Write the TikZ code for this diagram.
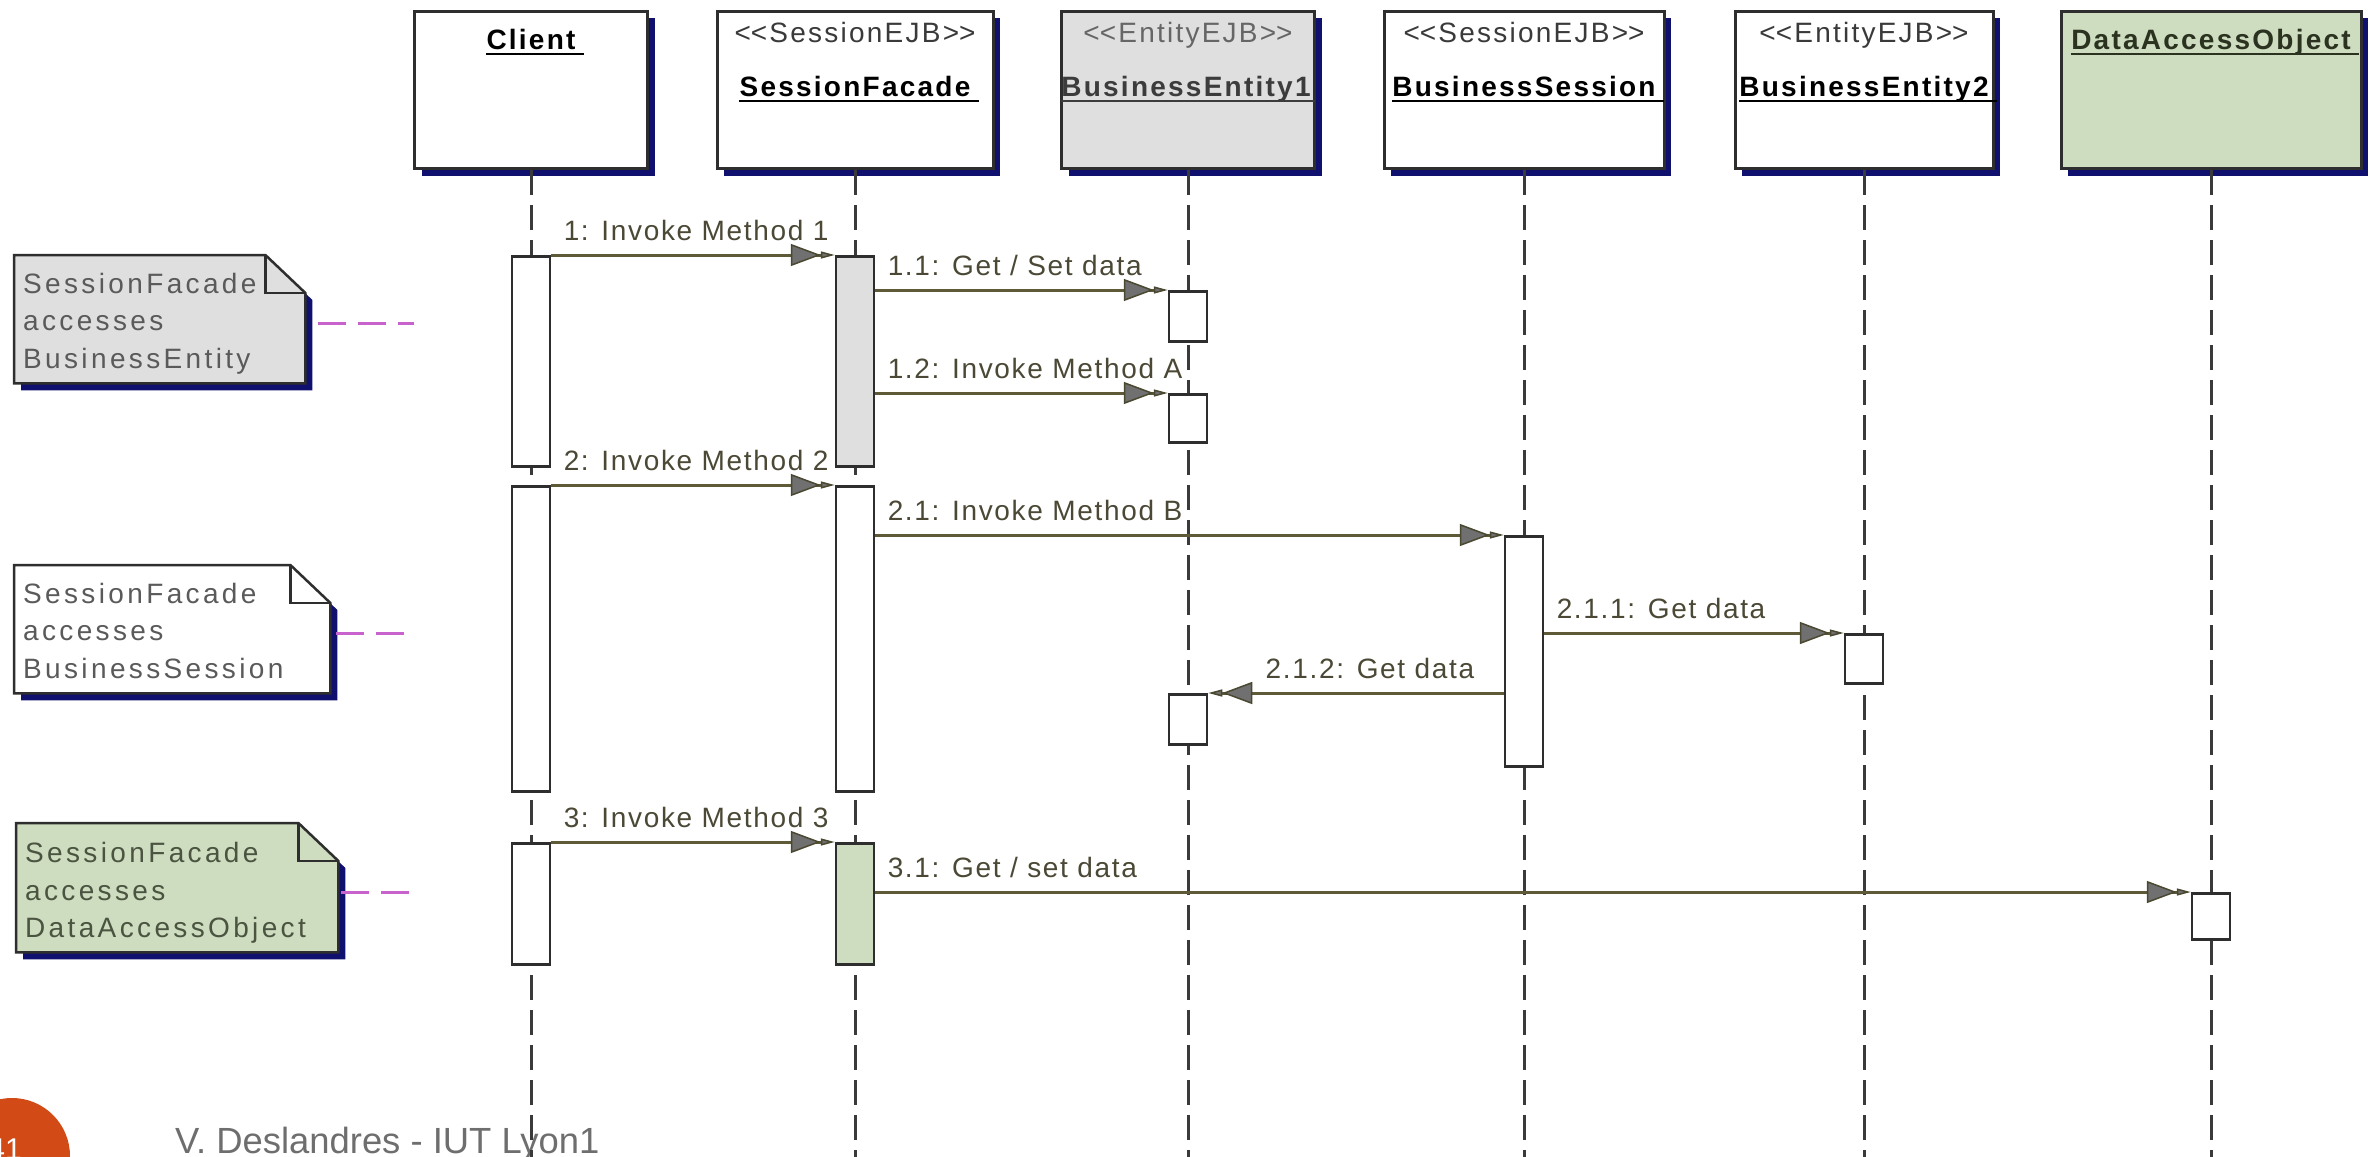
\documentclass[tikz,border=0pt]{standalone}
\usepackage{fontspec}
\setmainfont{Liberation Sans}
\newfontfamily\umlfont[LetterSpace=8]{Liberation Sans}
\newfontfamily\msgfont[LetterSpace=6]{Liberation Sans}
\newfontfamily\notefont[LetterSpace=12]{Liberation Sans}
\usetikzlibrary{arrows.meta,shadows,calc}

\definecolor{boxline}{HTML}{2E2E2E}
\definecolor{shadowblue}{HTML}{10106E}
\definecolor{paleGray}{HTML}{DFDFDF}
\definecolor{sage}{HTML}{CEDCBF}
\definecolor{msgline}{HTML}{5E5A38}
\definecolor{tipgray}{HTML}{707070}
\definecolor{tipline}{HTML}{4A4830}
\definecolor{msgtext}{HTML}{4B4936}
\definecolor{notegray}{HTML}{5A5A5A}
\definecolor{notegreen}{HTML}{4A5440}
\definecolor{linkviolet}{HTML}{C862CC}
\definecolor{lifegray}{HTML}{3A3A3A}
\definecolor{stereodark}{HTML}{3A3A3A}
\definecolor{stereolight}{HTML}{666666}
\definecolor{namegray}{HTML}{3C3C3C}
\definecolor{daoname}{HTML}{2B3320}
\definecolor{slideorange}{HTML}{D24B17}
\definecolor{footgray}{HTML}{6E6E6E}

% <<stereotype>> without the guillemet ligature
\newcommand\umlst[1]{<\kern0pt<#1>\kern0pt>}

\begin{document}
\begin{tikzpicture}[x=1pt,y=-1pt,
  umltext/.style={font=\umlfont\fontsize{28}{34}\selectfont, inner sep=0pt},
  head/.style={draw=boxline, line width=3pt, fill=white, minimum width=#1,
    minimum height=157pt, inner sep=0pt, anchor=north,
    drop shadow={shadow xshift=7pt, shadow yshift=-7pt, fill=shadowblue, opacity=1}},
  stereo/.style={umltext, anchor=base, text=#1},
  objname/.style={umltext, anchor=base, font=\umlfont\bfseries\fontsize{28}{34}\selectfont, text=#1},
  uline/.style={draw=#1, line width=2pt},
  life/.style={draw=lifegray, line width=3pt, dash pattern=on 25pt off 10pt},
  act/.style={draw=boxline, line width=2.5pt, fill=white, minimum width=38pt,
    minimum height=#1, inner sep=0pt, anchor=north},
  msg/.style={draw=msgline, line width=3pt,
    -{Triangle[length=30pt, width=22pt, fill=tipgray, color=tipline, line width=1.5pt, sep=0pt]
      Triangle[length=14pt, width=7pt, fill=tipgray, color=tipline, line width=1.5pt]}},
  msglabel/.style={font=\msgfont\fontsize{28}{34}\selectfont, inner sep=0pt,
    text=msgtext, pos=0, anchor=base west, xshift=11pt, yshift=15pt},
  noteframe/.style={inner sep=0pt, draw=none, anchor=north west},
  notebox/.style={draw=boxline, line width=2.5pt, fill=#1,
    drop shadow={shadow xshift=7pt, shadow yshift=-7pt, fill=shadowblue, opacity=1}},
  notefold/.style={draw=boxline, line width=2.5pt},
  notetext/.style={inner sep=0pt, align=left, anchor=north west,
    font=\notefont\fontsize{28}{37.5}\selectfont, text=#1},
  notelink/.style={draw=linkviolet, line width=3pt, dash pattern=on 28pt off 12pt}
]
\useasboundingbox (0,0) rectangle (2376,1156);
\fill[white] (0,0) rectangle (2376,1156);

% slide footer
\node[circle, fill=slideorange, minimum size=116pt, inner sep=0pt] (pagedot) at (12,1156) {};
\node[anchor=base east, inner sep=0pt, text=white, font=\fontsize{30}{34}\selectfont] (pagenum) at (22,1159) {41};
\node[anchor=base west, inner sep=0pt, text=footgray, font=\fontsize{36.4}{40}\selectfont] (footer) at (175,1153) {V. Deslandres - IUT Lyon1};

% object heads
\node[head=233pt] (client) at (531,10) {};
\node[head=276pt] (sf) at (855,10) {};
\node[head=253pt, fill=paleGray] (be1) at (1188,10) {};
\node[head=280pt] (bs) at (1524,10) {};
\node[head=258pt] (be2) at (1864,10) {};
\node[head=300pt, fill=sage] (dao) at (2211,10) {};

\node[objname=black] (clientN) at (531,49) {Client};
\draw[uline=black] ([yshift=-5pt]clientN.base west) -- ([xshift=8pt,yshift=-5pt]clientN.base east);

\node[stereo=stereodark] (sfS) at (855,43) {\umlst{SessionEJB}};
\node[objname=black] (sfN) at (855,96) {SessionFacade};
\draw[uline=black] ([yshift=-5pt]sfN.base west) -- ([xshift=8pt,yshift=-5pt]sfN.base east);

\node[stereo=stereolight] (be1S) at (1188,43) {\umlst{EntityEJB}};
\node[objname=namegray] (be1N) at (1186,96) {BusinessEntity1};
\draw[uline=namegray] ([yshift=-5pt]be1N.base west) -- ([xshift=4pt,yshift=-5pt]be1N.base east);

\node[stereo=stereodark] (bsS) at (1524,43) {\umlst{SessionEJB}};
\node[objname=black] (bsN) at (1524,96) {BusinessSession};
\draw[uline=black] ([yshift=-5pt]bsN.base west) -- ([xshift=8pt,yshift=-5pt]bsN.base east);

\node[stereo=stereodark] (be2S) at (1864,43) {\umlst{EntityEJB}};
\node[objname=black] (be2N) at (1864,96) {BusinessEntity2};
\draw[uline=black] ([yshift=-5pt]be2N.base west) -- ([xshift=8pt,yshift=-5pt]be2N.base east);

\node[objname=daoname] (daoN) at (2211,49) {DataAccessObject};
\draw[uline=daoname] ([yshift=-5pt]daoN.base west) -- ([xshift=8pt,yshift=-5pt]daoN.base east);

% lifelines
\coordinate (floor) at (0,1162);
\foreach \h in {client,sf,be1,bs,be2,dao}
  \draw[life] (\h.south) -- (\h.south |- floor);

% activation bars
\node[act=210pt] (c1) at (531,255) {};
\node[act=305pt] (c2) at (531,485) {};
\node[act=121pt] (c3) at (531,842) {};
\node[act=210pt, fill=paleGray] (s1) at (855,255) {};
\node[act=305pt] (s2) at (855,485) {};
\node[act=121pt, fill=sage] (s3) at (855,842) {};
\node[act=50pt] (e1a) at (1188,290) {};
\node[act=48pt] (e1b) at (1188,393) {};
\node[act=50pt] (e1c) at (1188,693) {};
\node[act=230pt] (bsa) at (1524,535) {};
\node[act=49pt] (e2a) at (1864,633) {};
\node[act=46pt] (da) at (2211,892) {};

% messages
\draw[msg] (c1.north east) -- (s1.north west) node[msglabel] (l1) {1: Invoke Method 1};
\draw[msg] (s1.east |- e1a.north west) -- (e1a.north west) node[msglabel] (l11) {1.1: Get / Set data};
\draw[msg] (s1.east |- e1b.north west) -- (e1b.north west) node[msglabel] (l12) {1.2: Invoke Method A};
\draw[msg] (c2.north east) -- (s2.north west) node[msglabel] (l2) {2: Invoke Method 2};
\draw[msg] (s2.east |- bsa.north west) -- (bsa.north west) node[msglabel] (l21) {2.1: Invoke Method B};
\draw[msg] (bsa.east |- e2a.north west) -- (e2a.north west) node[msglabel] (l211) {2.1.1: Get data};
\draw[msg] (bsa.west |- e1c.north east) -- (e1c.north east)
  node[msglabel, anchor=base east, xshift=-39pt] (l212) {2.1.2: Get data};
\draw[msg] (c3.north east) -- (s3.north west) node[msglabel] (l3) {3: Invoke Method 3};
\draw[msg] (s3.east |- da.north west) -- (da.north west) node[msglabel] (l31) {3.1: Get / set data};

% notes
\node[noteframe, minimum width=291pt, minimum height=128pt] (n1) at (14,255) {};
\node[noteframe, minimum width=316pt, minimum height=128pt] (n2) at (14,565) {};
\node[noteframe, minimum width=322pt, minimum height=129pt] (n3) at (16,823) {};

\foreach \n/\f in {n1/paleGray, n2/white, n3/sage}{
  \path[notebox=\f] (\n.north west) -- ($(\n.north east)+(-40,0)$) -- ($(\n.north east)+(0,38)$)
    -- (\n.south east) -- (\n.south west) -- cycle;
  \draw[notefold] ($(\n.north east)+(-40,0)$) -- ($(\n.north east)+(-40,38)$) -- ($(\n.north east)+(0,38)$);
}

\node[notetext=notegray] (n1t) at ($(n1.north west)+(9,18)$) {SessionFacade\\accesses\\BusinessEntity};
\node[notetext=notegray] (n2t) at ($(n2.north west)+(9,18)$) {SessionFacade\\accesses\\BusinessSession};
\node[notetext=notegreen] (n3t) at ($(n3.north west)+(9,19)$) {SessionFacade\\accesses\\DataAccessObject};

\coordinate (k1) at (414,323);
\coordinate (k2) at (414,633);
\coordinate (k3) at (414,892);
\draw[notelink] ($(n1.east |- k1)+(13,0)$) -- (k1);
\draw[notelink] ($(n2.east |- k2)+(6,0)$) -- (k2);
\draw[notelink] ($(n3.east |- k3)+(3,0)$) -- (k3);
\end{tikzpicture}
\end{document}
